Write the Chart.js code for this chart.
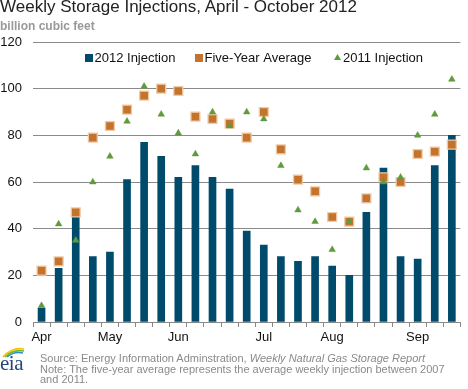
<!DOCTYPE html>
<html>
<head>
<meta charset="utf-8">
<script src="https://cdn.jsdelivr.net/npm/chart.js@4/dist/chart.umd.min.js"></script>
<style>
  html, body { margin: 0; padding: 0; background: #fff; }
  #wrap { position: relative; width: 468px; height: 389px; overflow: hidden; font-family: "Liberation Sans", Arial, sans-serif; }
  #c { position: absolute; left: 0; top: 0; }
  #title { position: absolute; left: 0; top: -3px; font-size: 17px; color: #222; white-space: nowrap; }
  #sub { position: absolute; left: 0; top: 19px; font-size: 12px; font-weight: bold; color: #999; white-space: nowrap; }
  #foot { position: absolute; left: 40px; top: 353px; font-size: 11px; line-height: 10.5px; color: #8a8a8a; width: 425px; }
  #logo { position: absolute; left: 0; top: 344px; width: 30px; height: 28px; }
  #logotxt { position: absolute; left: 0px; top: 351px; font-family: "Liberation Serif", "DejaVu Serif", serif; font-size: 21px; color: #24477a; letter-spacing: -0.5px; }
</style>
</head>
<body>
<div id="wrap">
  <canvas id="c" width="468" height="350"></canvas>
  <div id="title">Weekly Storage Injections, April - October 2012</div>
  <div id="sub">billion cubic feet</div>
  <svg id="logo" viewBox="0 0 30 28">
    <path d="M3 13 Q12 3 24 5" stroke="#f2c500" stroke-width="1.6" fill="none"/>
    <path d="M5 13 Q13 5 24 7" stroke="#79b531" stroke-width="1.6" fill="none"/>
    <path d="M7 13 Q14 7 23 9" stroke="#2b8fd0" stroke-width="1.4" fill="none"/>
  </svg>
  <div id="logotxt">eia</div>
  <div id="foot">Source: Energy Information Adminstration, <i>Weekly Natural Gas Storage Report</i><br>Note: The five-year average represents the average weekly injection between 2007 and 2011.</div>
</div>
<script>
// Week ending dates (2012)
const weeks = ['Apr 6','Apr 13','Apr 20','Apr 27','May 4','May 11','May 18','May 25','Jun 1','Jun 8','Jun 15','Jun 22','Jun 29','Jul 6','Jul 13','Jul 20','Jul 27','Aug 3','Aug 10','Aug 17','Aug 24','Aug 31','Sep 7','Sep 14','Sep 21'];
// Month tick labels shown under the axis
const monthTicks = ['Apr','','','','May','','','','Jun','','','','','Jul','','','','Aug','','','','','Sep','',''];
// Series values (billion cubic feet)
const injection2012 = [6,23,46,28,30,61,77,71,62,67,62,57,39,33,28,26,28,24,20,47,66,28,27,67,80];
const fiveYearAvg   = [22,26,47,79,84,91,97,100,99,88,87,85,79,90,74,61,56,45,43,53,62,60,72,73,76];
const injection2011 = [7,42,35,60,71,86,101,89,81,72,90,84,90,87,67,48,43,31,43,66,60,62,80,89,104];
const yTicks = [0,20,40,60,80,100,120];

const legendPlugin = {
  id: 'inlineLegend',
  afterDraw(chart) {
    const ctx = chart.ctx;
    const ds = chart.data.datasets;
    const items = [
      { marker: 'rect', mx: 89, tx: 94.5 },
      { marker: 'rect', mx: 199, tx: 204.5 },
      { marker: 'tri', mx: 337.5, tx: 343 }
    ];
    const y = 58;
    ctx.save();
    ctx.font = '13px "Liberation Sans", Arial, sans-serif';
    ctx.textBaseline = 'middle';
    ctx.textAlign = 'left';
    items.forEach((it, i) => {
      const d = ds[i];
      const col = d.legendColor || d.backgroundColor;
      ctx.fillStyle = col;
      if (it.marker === 'rect') {
        ctx.fillRect(it.mx - 4, y - 4, 8, 8);
      } else {
        ctx.beginPath();
        ctx.moveTo(it.mx, y - 4);
        ctx.lineTo(it.mx + 3.5, y + 2);
        ctx.lineTo(it.mx - 3.5, y + 2);
        ctx.closePath();
        ctx.fill();
      }
      ctx.fillStyle = '#111';
      ctx.fillText(d.label, it.tx, y);
    });
    ctx.restore();
  }
};

new Chart(document.getElementById('c'), {
  data: {
    labels: weeks,
    datasets: [
      { type: 'bar', label: '2012 Injection', data: injection2012, backgroundColor: '#004b6b', barThickness: 7, order: 2 },
      { type: 'line', label: 'Five-Year Average', data: fiveYearAvg, showLine: false, pointStyle: 'rect', pointRadius: 6.3,
        backgroundColor: '#c4732c', borderColor: '#efc9a6', pointBorderWidth: 1.3, legendColor: '#c4732c', order: 1 },
      { type: 'line', label: '2011 Injection', data: injection2011, showLine: false, pointStyle: 'triangle', pointRadius: 3.8,
        backgroundColor: '#5f9b3a', borderColor: '#5f9b3a', pointBorderWidth: 0.5, order: 0 }
    ]
  },
  options: {
    responsive: false,
    animation: false,
    devicePixelRatio: 1,
    layout: { padding: { top: 42, right: 3, left: 0, bottom: 0 } },
    plugins: { legend: { display: false }, tooltip: { enabled: false }, title: { display: false } },
    scales: {
      x: {
        type: 'category',
        offset: true,
        grid: { display: true, drawOnChartArea: false, drawTicks: true, tickLength: 5, color: '#888', offset: true },
        border: { display: true, color: '#888', width: 1 },
        ticks: {
          autoSkip: false, maxRotation: 0, minRotation: 0, padding: 3,
          color: '#111', font: { family: '"Liberation Sans", Arial, sans-serif', size: 13 },
          callback: (v, i) => monthTicks[i]
        },
        afterFit(scale) { scale.height = 28; }
      },
      y: {
        min: 0, max: 120,
        afterBuildTicks(scale) { scale.ticks = yTicks.map(v => ({ value: v })); },
        grid: { color: '#8a8a8a', drawTicks: false, lineWidth: 1 },
        border: { display: false },
        ticks: { padding: 11, color: '#111', font: { family: '"Liberation Sans", Arial, sans-serif', size: 13 } },
        afterFit(scale) { scale.width = 33; }
      }
    }
  },
  plugins: [legendPlugin]
});
</script>
</body>
</html>
